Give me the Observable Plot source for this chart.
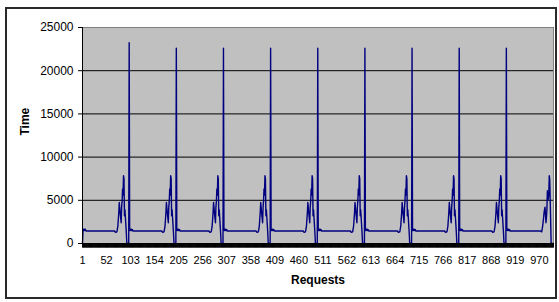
<!DOCTYPE html>
<html><head><meta charset="utf-8">
<script src="https://cdn.jsdelivr.net/npm/d3@7"></script>
<script src="https://cdn.jsdelivr.net/npm/@observablehq/plot@0.6"></script>
<style>
html,body{margin:0;padding:0;background:#fff;}
#wrap{position:relative;width:559px;height:302px;overflow:hidden;}
#border{position:absolute;left:5px;top:7px;width:552px;height:292px;box-sizing:border-box;border:2px solid #2a2a2a;pointer-events:none;}
#wrap svg{position:absolute;left:0;top:0;}
</style>
</head><body>
<div id="wrap"><div id="border"></div></div>
<script>
// ---- data ----
const xTickLabels = [1,52,103,154,205,256,307,358,409,460,511,562,613,664,715,766,817,868,919,970];
const yTickValues = [0,5000,10000,15000,20000,25000];
const gridValues = [5000,10000,15000,20000];

// opening requests
const startRequests = [1,2,3,4,5,6,7,8,9,10];
const startTimes    = [0,1500,1650,1500,1650,1500,1650,1500,1450,1450];

// requests where the large spike occurs, and its height
const spikeRequests = [100,200,300,400,500,600,700,800,900];
const spikeTimes    = [23250,22600,22600,22600,22600,22600,22600,22600,22600];

// shape around each spike (offset in requests from the spike, time)
const cycleOffsets = [-31,-29,-26,-24,-22,-21,-19,-17,-16,-15,-14,-13,-12,-11,-10,-9,-8,-6,-5,-1,0,1,2,3,4,5,6,7,8];
const cycleTimes   = [1450,1300,1350,2000,3600,4750,3500,2400,4200,4900,6300,5600,7850,7500,3200,3900,3000,1200,0,0,22600,1700,1500,1650,1500,1650,1500,1600,1450];

// last, incomplete cycle
const tailRequests = [972,975,977,979,980,982,984,985,986,987,988,989,990,991,992,993,994,995,1000];
const tailTimes    = [1450,1350,2000,3000,3600,4200,2400,3000,3900,6100,5000,5200,5600,7850,7400,5000,2500,0,0];

// every request gets a tick mark on the category axis
const allRequests = d3.range(1, 1001);

// ---- build the polyline vertices ----
const points = [];
startRequests.forEach((r, i) => points.push({request: r, time: startTimes[i]}));
spikeRequests.forEach((s, i) => {
  cycleOffsets.forEach((o, j) => points.push({request: s + o, time: o === 0 ? spikeTimes[i] : cycleTimes[j]}));
});
tailRequests.forEach((r, i) => points.push({request: r, time: tailTimes[i]}));

const chart = Plot.plot({
  width: 559,
  height: 302,
  marginLeft: 82,
  marginRight: 6,
  marginTop: 27,
  marginBottom: 59,
  style: {fontFamily: "Arial, 'Liberation Sans', sans-serif", background: "transparent", color: "#000"},
  x: {domain: [1, 1000]},
  y: {domain: [0, 25000]},
  marks: [
    Plot.frame({fill: "#c0c0c0", stroke: "#808080"}),
    Plot.gridY(gridValues, {stroke: "#000", strokeOpacity: 1}),
    Plot.line(points, {x: "request", y: "time", stroke: "#000080", strokeWidth: 1.4}),
    Plot.ruleX([1], {stroke: "#000"}),
    Plot.ruleY([0], {stroke: "#000"}),
    Plot.axisX(allRequests, {tickSize: 4.5, tickFormat: () => "", label: null}),
    Plot.axisX(xTickLabels, {tickSize: 0, tickPadding: 13, fontSize: 11, tickFormat: d => String(d), label: null}),
    Plot.axisY(yTickValues, {tickSize: 4, tickPadding: 5, fontSize: 12, tickFormat: d => String(d), label: null}),
    Plot.text(["Time"], {frameAnchor: "left", dx: -57, rotate: -90, fontWeight: "bold", fontSize: 12}),
    Plot.text(["Requests"], {frameAnchor: "bottom", dy: 40, fontWeight: "bold", fontSize: 12})
  ]
});
document.getElementById("wrap").insertBefore(chart, document.getElementById("border"));
</script>
</body></html>
